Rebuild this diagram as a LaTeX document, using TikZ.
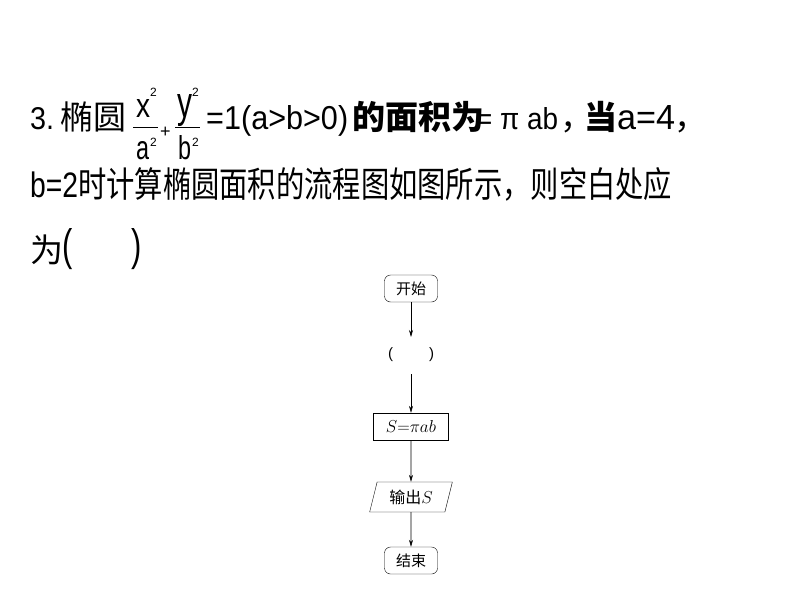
\documentclass[tikz,border=0pt]{standalone}
\usepackage{fontspec}
\setmainfont{Liberation Sans}
\newfontfamily\cjk{Noto Sans CJK SC}
\usetikzlibrary{shapes.geometric,arrows.meta}
\tikzset{
 txt/.style={anchor=base west,inner sep=0pt,font=\fontsize{26}{30}\selectfont},
 ctx/.style={anchor=base west,inner sep=0pt,font=\cjk\fontsize{33}{36}\selectfont},
 sm/.style={anchor=base west,inner sep=0pt,font=\fontsize{12}{14}\selectfont},
 term/.style={draw,rounded corners=6pt,minimum width=53pt,minimum height=27pt,inner sep=0pt,font=\cjk\fontsize{15}{17}\selectfont},
 proc/.style={draw,minimum width=75pt,minimum height=27pt,inner sep=0pt,font=\fontsize{16}{18}\selectfont},
 io/.style={draw,trapezium,trapezium left angle=72,trapezium right angle=108,trapezium stretches=true,minimum width=83pt,minimum height=30pt,inner sep=0pt,font=\fontsize{16}{18}\selectfont},
 arr/.style={-{Stealth[length=7pt,width=4pt]},line width=0.6pt}
}
\begin{document}
\begin{tikzpicture}[x=1pt,y=-1pt]
\useasboundingbox (0,0) rectangle (794,596);
% line 1
\node[txt] (n3) at (30,130) {\resizebox{24pt}{22pt}{3.}};
\node[ctx] (ty) at (60,130) {椭圆};
\node[txt] (x2) at (136,118) {\resizebox{14pt}{18pt}{x}};
\node[sm] at (150,97) {2};
\draw (133,127) -- (158,127);
\node[txt] (a2) at (136,160) {\resizebox{13pt}{18pt}{a}};
\node[sm] at (150,147) {2};
\node[txt] at (160,138) {\fontsize{18}{20}\selectfont +};
\node[txt] (y2) at (177,118) {\resizebox{15pt}{23pt}{y}};
\node[sm] at (192,97) {2};
\draw (175,127) -- (200,127);
\node[txt] (b2) at (178,160) {\resizebox{13pt}{24pt}{b}};
\node[sm] at (192,147) {2};
\node[txt] (eq) at (206,130) {\resizebox{142pt}{24pt}{=1(a>b>0)}};
\node[ctx] (mj) at (352,130) {\bfseries 的面积为};
\node[txt] (sp) at (476,130) {\resizebox{82pt}{22pt}{= π ab}};
\node[ctx] (cm1) at (560,130) {，};
\node[ctx] (dang) at (584,130) {\bfseries 当};
\node[txt] (a4) at (617,130) {\resizebox{58pt}{24pt}{a=4}};
\node[ctx] (cm2) at (674,130) {，};
% line 2
\node[txt] (l2) at (30,197) {\resizebox{642pt}{30pt}{b=2{\cjk 时计算椭圆面积的流程图如图所示，则空白处应}}};
% line 3
\node[ctx] (l3) at (30,262) {为};
\node[txt] (p3) at (62,260) {\resizebox{80pt}{32pt}{(\hspace{50pt})}};
% flowchart
\node[term] (start) at (411,288.5) {开始};
\node[font=\fontsize{15}{17}\selectfont] (blank) at (411,355) {(\hspace{36pt})};
\node[proc] (calc) at (411,426.5) {$S{=}\pi ab$};
\node[io] (out) at (411,497) {{\cjk 输出}$S$};
\node[term] (end) at (411,560.5) {结束};
\draw[arr] (start) -- (411,337);
\draw[arr] (411,374) -- (calc);
\draw[arr] (calc) -- (out);
\draw[arr] (out) -- (end);
\end{tikzpicture}
\end{document}
